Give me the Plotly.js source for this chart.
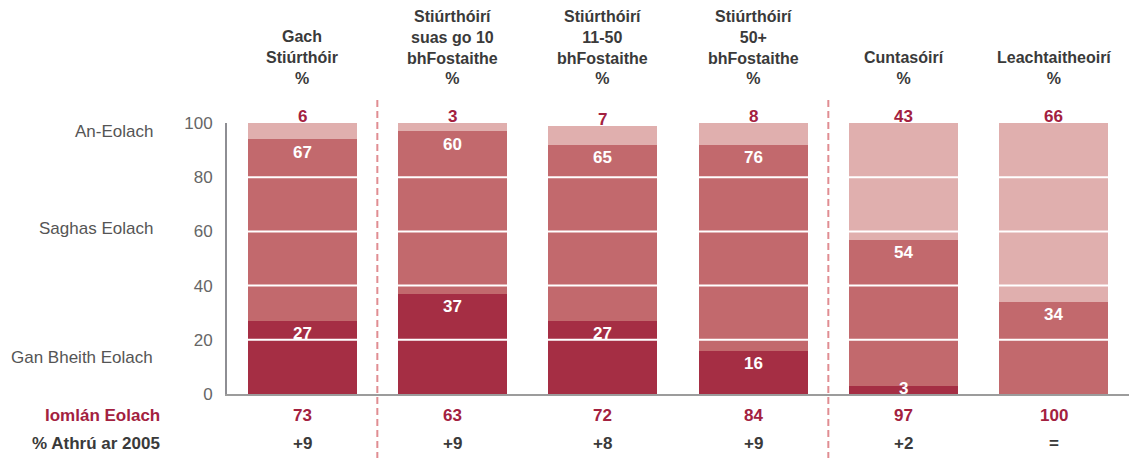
<!DOCTYPE html>
<html>
<head>
<meta charset="utf-8">
<script src="https://cdn.plot.ly/plotly-3.0.1.min.js"></script>
<style>
  html, body { margin: 0; padding: 0; background: #ffffff; }
  #chart { width: 1129px; height: 458px; }
</style>
</head>
<body>
<div id="chart"></div>
<script>
// ---- Data ----
const categories = [
  "Gach<br>Stiúrthóir<br>%",
  "Stiúrthóirí<br>suas go 10<br>bhFostaithe<br>%",
  "Stiúrthóirí<br>11-50<br>bhFostaithe<br>%",
  "Stiúrthóirí<br>50+<br>bhFostaithe<br>%",
  "Cuntasóirí<br>%",
  "Leachtaitheoirí<br>%"
];
const notAware = [27, 37, 27, 16, 3, 0];          // Gan Bheith Eolach
const somewhatAware = [67, 60, 65, 76, 54, 34];   // Saghas Eolach
const veryAware = [6, 3, 7, 8, 43, 66];           // An-Eolach
const totalAware = [73, 63, 72, 84, 97, 100];     // Iomlán Eolach
const changeSince2005 = ["+9", "+9", "+8", "+9", "+2", "="];
const seriesNames = ["Gan Bheith Eolach", "Saghas Eolach", "An-Eolach"];
const rowLabels = ["Iomlán Eolach", "% Athrú ar 2005"];
const yTicks = [0, 20, 40, 60, 80, 100];

// ---- Styles ----
const FONT = "Liberation Sans, Arial, Helvetica, sans-serif";
const C_DARK = "#a52e44";
const C_MID = "#c2696d";
const C_LIGHT = "#e0afae";
const C_RED_TEXT = "#a3213f";
const C_HEAD = "#3a3a3a";

const traces = [
  { name: seriesNames[0], y: notAware, color: C_DARK },
  { name: seriesNames[1], y: somewhatAware, color: C_MID },
  { name: seriesNames[2], y: veryAware, color: C_LIGHT }
].map(s => ({
  type: "bar",
  x: categories,
  y: s.y,
  name: s.name,
  marker: { color: s.color, line: { width: 0 } },
  hoverinfo: "x+y+name",
  showlegend: false
}));

const annotations = [];
const pxPerUnit = 271 / 100;

categories.forEach((cat, i) => {
  // header
  annotations.push({
    x: cat, xref: "x", y: 1.126, yref: "paper", yanchor: "bottom", xanchor: "center",
    text: "<b>" + cat + "</b>", showarrow: false,
    font: { family: FONT, size: 16, color: C_HEAD }, align: "center"
  });
  const midTop = notAware[i] + somewhatAware[i];
  const top = midTop + veryAware[i];
  // top segment label (above bar)
  annotations.push({
    x: cat, y: top, yanchor: "bottom", xanchor: "center", yshift: -5,
    text: "<b>" + veryAware[i] + "</b>", showarrow: false,
    font: { family: FONT, size: 17, color: C_RED_TEXT }
  });
  // middle segment label
  annotations.push({
    x: cat, y: midTop, yanchor: "middle", xanchor: "center", yshift: -13,
    text: "<b>" + somewhatAware[i] + "</b>", showarrow: false,
    font: { family: FONT, size: 17, color: "#ffffff" }
  });
  // bottom segment label
  if (notAware[i] > 0) {
    annotations.push({
      x: cat, y: notAware[i], yanchor: "middle", xanchor: "center",
      yshift: -Math.min(13, notAware[i] * pxPerUnit - 6),
      text: "<b>" + notAware[i] + "</b>", showarrow: false,
      font: { family: FONT, size: 17, color: "#ffffff" }
    });
  }
  // total aware row
  annotations.push({
    x: cat, y: -0.0775, yref: "paper", yanchor: "middle", xanchor: "center",
    text: "<b>" + totalAware[i] + "</b>", showarrow: false,
    font: { family: FONT, size: 17, color: C_RED_TEXT }
  });
  // change row
  annotations.push({
    x: cat, y: -0.1845, yref: "paper", yanchor: "middle", xanchor: "center",
    text: "<b>" + changeSince2005[i] + "</b>", showarrow: false,
    font: { family: FONT, size: 17, color: C_HEAD }
  });
});

// row labels
annotations.push({
  x: -0.072, xref: "paper", y: -0.0775, yref: "paper", xanchor: "right", yanchor: "middle",
  text: "<b>" + rowLabels[0] + "</b>", showarrow: false,
  font: { family: FONT, size: 17, color: C_RED_TEXT }
});
annotations.push({
  x: -0.072, xref: "paper", y: -0.1845, yref: "paper", xanchor: "right", yanchor: "middle",
  text: "<b>" + rowLabels[1] + "</b>", showarrow: false,
  font: { family: FONT, size: 17, color: C_HEAD }
});

// series labels at left
const seriesLabelY = [0.1365, 0.6125, 0.970];
seriesNames.forEach((n, k) => {
  annotations.push({
    x: -0.0798, xref: "paper", y: seriesLabelY[k], yref: "paper", xanchor: "right", yanchor: "middle",
    text: n, showarrow: false,
    font: { family: FONT, size: 17, color: "#555555" }
  });
});

// white gridlines over bars and dashed separators
const shapes = [];
yTicks.filter(v => v > 0 && v < 100).forEach(v => {
  shapes.push({
    type: "line", xref: "paper", x0: 0.004, x1: 1, yref: "y", y0: v, y1: v,
    line: { color: "#ffffff", width: 2 }, layer: "above"
  });
});
[0.5, 3.5].forEach(xv => {
  shapes.push({
    type: "line", xref: "x", x0: xv, x1: xv, yref: "paper", y0: -0.24, y1: 1.087,
    line: { color: "#e08d92", width: 2, dash: "7px,4px" }, layer: "above"
  });
});

const layout = {
  width: 1129, height: 458,
  margin: { l: 227, r: 0, t: 123, b: 64, pad: 0 },
  paper_bgcolor: "#ffffff", plot_bgcolor: "#ffffff",
  barmode: "stack", bargap: 0.275,
  showlegend: false,
  font: { family: FONT, color: "#555555" },
  xaxis: {
    type: "category", range: [-0.5, 5.5],
    showticklabels: false, showgrid: false, zeroline: false,
    showline: true, linecolor: "#9c9c9c", linewidth: 2, ticks: "",
    fixedrange: true
  },
  yaxis: {
    range: [0, 100], tickvals: yTicks, ticktext: yTicks.map(String),
    showgrid: false, zeroline: false,
    showline: true, linecolor: "#8e8e93", linewidth: 2, ticks: "",
    ticklabelstandoff: 9,
    tickfont: { family: FONT, size: 17, color: "#666666" },
    fixedrange: true
  },
  annotations: annotations,
  shapes: shapes
};

Plotly.newPlot("chart", traces, layout, { displayModeBar: false, staticPlot: true });
</script>
</body>
</html>
